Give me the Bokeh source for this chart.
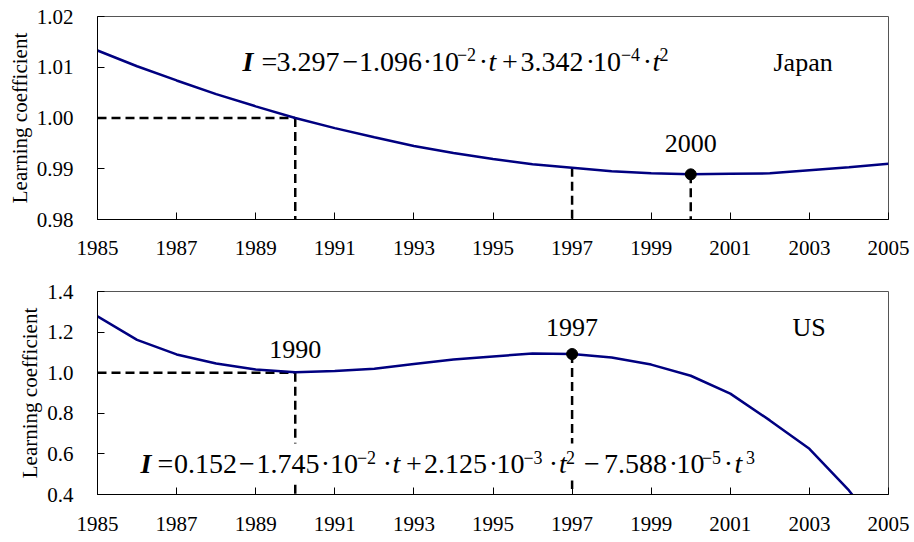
from bokeh.plotting import figure
from bokeh.models import Range1d, FixedTicker, Label, BoxAnnotation, NumeralTickFormatter
from bokeh.layouts import column
from bokeh.embed import file_html
from bokeh.resources import INLINE

# ---------------- data ----------------
years = list(range(1985, 2006))
japan = [1.0133, 1.0102, 1.0074, 1.0047, 1.0023, 1.0000, 0.9980, 0.9962, 0.9945, 0.9931,
         0.9919, 0.9909, 0.9902, 0.9895, 0.9891, 0.9889, 0.9890, 0.9891, 0.9897, 0.9903, 0.9910]
us = [1.278, 1.162, 1.090, 1.045, 1.016, 1.002, 1.008, 1.020, 1.043, 1.065,
      1.080, 1.095, 1.092, 1.075, 1.040, 0.985, 0.897, 0.765, 0.625, 0.420, 0.170]

x_ticks = [1985, 1987, 1989, 1991, 1993, 1995, 1997, 1999, 2001, 2003, 2005]
japan_y_ticks = [0.98, 0.99, 1.00, 1.01, 1.02]
us_y_ticks = [0.4, 0.6, 0.8, 1.0, 1.2, 1.4]

unit_level = 1.0
threshold_year = 1990
japan_marks = [1990, 1997, 2000]
japan_dot = 2000
us_marks = [1990, 1997]
us_dot = 1997
us_label_years = [1990, 1997]

japan_formula = ["I", "=", "3.297", "\u2212", "1.096", "\u00b7", "10", "\u22122", "\u00b7", "t",
                 "+", "3.342", "\u00b7", "10", "\u22124", "\u00b7", "t", "2"]
us_formula = ["I", "=", "0.152", "\u2212", "1.745", "\u00b7", "10", "\u22122", "\u00b7", "t",
              "+", "2.125", "\u00b7", "10", "\u22123", "\u00b7", "t", "2", "\u2212",
              "7.588", "\u00b7", "10", "\u22125", "\u00b7", "t", "3"]

# ---------------- layout / style ----------------
FONT = "Liberation Serif"
NAVY = "#000080"
FRAME_L, FRAME_R = 97, 888

# piece placement: (centre px, kind) kind: b=bold italic, n=normal, s=superscript, i=italic
japan_layout = [(247.5, "b"), (269, "n"), (307.5, "n"), (350, "n"), (390, "n"), (427, "n"),
                (444.5, "n"), (466, "s"), (483, "n"), (492, "i"), (509.5, "n"), (551.5, "n"),
                (590, "n"), (606.5, "n"), (630, "s"), (647, "n"), (656, "i"), (663.5, "s")]
us_layout = [(145.5, "b"), (165, "n"), (205, "n"), (246.5, "n"), (287.5, "n"), (325, "n"),
             (343.5, "n"), (366, "s"), (387, "n"), (396, "i"), (413.5, "n"), (455, "n"),
             (493, "n"), (510, "n"), (532.5, "s"), (553, "n"), (562.5, "i"), (570, "s"),
             (591.5, "n"), (635, "n"), (673, "n"), (690, "n"), (711, "s"), (728, "n"),
             (738, "i"), (750, "s")]


def fx(px):
    return 1985 + (px - FRAME_L) / (FRAME_R - FRAME_L) * 20


def make_fig(y0, y1, yticks, fmt, top, bottom, height, x_standoff, frame_top, frame_bot):
    p = figure(width=912, height=height, x_range=Range1d(1985, 2005), y_range=Range1d(y0, y1),
               output_backend="svg", toolbar_location=None,
               min_border_left=97, min_border_right=24, min_border_top=top, min_border_bottom=bottom)
    p.grid.visible = False
    p.outline_line_color = "#555555"
    p.outline_line_width = 1
    p.background_fill_color = "white"
    p.border_fill_color = "white"
    for ax in (p.xaxis, p.yaxis):
        ax.major_tick_in = 7
        ax.major_tick_out = 0
        ax.minor_tick_line_color = None
        ax.axis_line_color = "black"
        ax.major_tick_line_color = "black"
        ax.major_label_text_font = FONT
        ax.major_label_text_font_size = "21px"
        ax.major_label_text_color = "black"
    p.xaxis.ticker = FixedTicker(ticks=x_ticks)
    p.xaxis.major_label_standoff = x_standoff
    p.yaxis.ticker = FixedTicker(ticks=yticks)
    p.yaxis.formatter = NumeralTickFormatter(format=fmt)
    p.yaxis.major_label_standoff = 24
    p.yaxis.axis_label = "Learning coefficient"
    p.yaxis.axis_label_text_font = FONT
    p.yaxis.axis_label_text_font_size = "21px"
    p.yaxis.axis_label_text_font_style = "normal"
    p.yaxis.axis_label_text_color = "black"
    p.yaxis.axis_label_standoff = 2

    def fy(py):
        return y0 + (frame_bot - py) / (frame_bot - frame_top) * (y1 - y0)
    return p, fy


def add_formula(p, fy, texts, layout, main_cy, sup_cy):
    for t, (px, kind) in zip(texts, layout):
        style = {"b": "bold italic", "i": "italic"}.get(kind, "normal")
        size = "18px" if kind == "s" else "28px"
        y = fy(sup_cy) if kind == "s" else fy(main_cy)
        p.add_layout(Label(x=fx(px), y=y, text=t, text_font=FONT, text_font_size=size,
                           text_font_style=style, text_align="center", text_baseline="middle",
                           text_color="black"))


def add_text(p, x, y, text, align):
    p.add_layout(Label(x=x, y=y, text=text, text_font=FONT, text_font_size="26px",
                       text_align=align, text_baseline="middle", text_color="black"))


DASH = dict(line_color="black", line_width=2.5, line_dash="9 5")

# ---------------- Japan ----------------
p1, fy1 = make_fig(0.98, 1.02, japan_y_ticks, "0.00", 16, 60, 279, 21, 16, 219)
jv = dict(zip(years, japan))
p1.segment(x0=[years[0]], y0=[unit_level], x1=[threshold_year], y1=[unit_level], **DASH)
p1.segment(x0=japan_marks, y0=[jv[y] for y in japan_marks], x1=japan_marks,
           y1=[0.98] * len(japan_marks), **DASH)
p1.line(years, japan, line_color=NAVY, line_width=2.5)
p1.scatter([japan_dot], [jv[japan_dot]], size=11, color="black")
add_text(p1, japan_dot, fy1(143), str(japan_dot), "center")
add_text(p1, fx(773), fy1(62), "Japan", "left")
add_formula(p1, fy1, japan_formula, japan_layout, 61, 53.8)

# ---------------- US ----------------
p2, fy2 = make_fig(0.4, 1.4, us_y_ticks, "0.0", 12, 48, 263, 22, 291, 494)
uv = dict(zip(years, us))
p2.segment(x0=[years[0]], y0=[unit_level], x1=[threshold_year], y1=[unit_level], **DASH)
p2.segment(x0=us_marks, y0=[unit_level if y == threshold_year else uv[y] for y in us_marks],
           x1=us_marks, y1=[0.4] * len(us_marks), **DASH)
p2.line(years, us, line_color=NAVY, line_width=2.5)
p2.scatter([us_dot], [uv[us_dot]], size=11, color="black")
p2.add_layout(BoxAnnotation(left=fx(135), right=fx(760), top=fy2(443), bottom=fy2(480),
                            fill_color="white", fill_alpha=1, line_color=None))
add_text(p2, us_label_years[0], fy2(348.8), str(us_label_years[0]), "center")
add_text(p2, us_label_years[1], fy2(327.3), str(us_label_years[1]), "center")
add_text(p2, fx(792), fy2(327.3), "US", "left")
add_formula(p2, fy2, us_formula, us_layout, 463, 457)

layout = column(p1, p2)
open("out.html", "w").write(file_html(layout, INLINE))
